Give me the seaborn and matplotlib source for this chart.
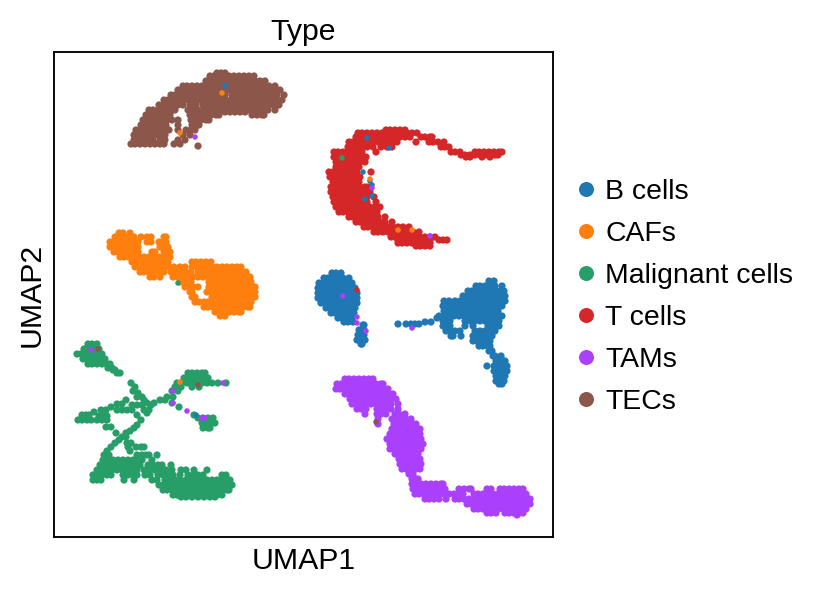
import pandas as pd
import matplotlib.pyplot as plt
import seaborn as sns

# cell positions, {y: [x, x, ...]} for each cell type
b_cells = {
    273: [332, 336, 341],
    278: [324, 328, 333, 338, 343, 349],
    283: [319, 323, 328, 333, 338, 343, 348, 352],
    288: [318, 321, 326, 331, 336, 341, 346, 351, 355],
    293: [318, 320, 325, 330, 335, 340, 345, 350, 355, 357],
    298: [318, 322, 327, 332, 337, 342, 347, 352, 357],
    303: [321, 325, 330, 335, 340, 345, 350, 355, 357],
    308: [326, 330, 335, 340, 345, 350, 355],
    313: [331, 335, 340, 345, 350, 354],
    318: [338, 342, 347, 352, 437],
    322: [344, 348, 353, 425, 431],
    325: [363, 364],
    324: [398, 406, 411, 415, 419],
    330: [359, 362, 364],
    335: [358, 361, 364],
    340: [357, 360, 365],
    344: [361, 362],
    281: [489, 494],
    286: [476, 480, 485, 490, 495, 502],
    291: [468, 472, 477, 482, 487, 492, 497, 502, 504],
    296: [463, 467, 472, 477, 482, 487, 492, 497, 502, 505],
    301: [444, 449, 455, 460, 465, 470, 475, 480, 485, 490, 495, 500, 505],
    306: [443, 447, 452, 457, 462, 467, 472, 477, 482, 487, 492, 498, 502],
    311: [444, 448, 453, 458, 463, 469, 473, 478, 483, 488, 493, 498],
    316: [439, 444, 449, 454, 459, 464, 467, 472, 477, 482, 486, 492, 497, 502],
    321: [443, 447, 450, 465, 470, 475, 480, 485, 490, 495, 499],
    326: [443, 447, 450, 465, 473, 488, 494, 499],
    331: [446, 450, 455, 460, 475, 480, 485, 491, 495],
    336: [451, 453, 461, 473, 478, 483, 488, 492],
    341: [473, 477, 482, 487, 490],
    346: [479, 483, 488, 490],
    351: [489, 492],
    356: [493, 495, 501],
    361: [496, 499, 503, 505],
    366: [487, 494, 497, 501, 505, 507],
    371: [494, 497, 501, 505, 507],
    376: [496, 499, 503, 505],
    381: [496, 499, 504],
    384: [499, 502],
}
cafs = {
    233: [119, 123, 130],
    237: [115, 119, 124, 129, 134, 141, 147, 151, 164, 166],
    242: [110, 114, 119, 124, 129, 134, 138, 147, 151, 159, 163, 166],
    247: [110, 114, 119, 124, 129, 134, 138, 160, 164, 168],
    252: [114, 118, 123, 128, 133, 138, 152, 155, 164, 168, 170],
    257: [120, 124, 129, 134, 139, 144, 149, 154, 159, 164, 169, 170],
    262: [132, 136, 141, 146, 151, 156, 161, 166, 168, 192, 196, 201, 206, 211],
    267: [135, 139, 144, 149, 154, 159, 164, 169, 174, 180, 185, 192, 197, 202, 207, 212, 217, 222, 227, 232, 237, 241],
    272: [140, 144, 149, 154, 159, 164, 171, 176, 181, 186, 191, 198, 203, 208, 213, 218, 223, 228, 233, 238, 243, 246],
    277: [150, 154, 160, 173, 178, 183, 188, 193, 198, 203, 208, 213, 218, 223, 228, 233, 238, 243, 248, 250],
    282: [180, 184, 189, 191, 209, 213, 218, 223, 228, 233, 238, 243, 248, 251],
    287: [185, 189, 193, 198, 209, 213, 218, 223, 228, 233, 238, 243, 248, 253, 255],
    292: [190, 192, 207, 211, 216, 221, 226, 231, 236, 241, 246, 251, 255],
    297: [192, 195, 212, 216, 221, 226, 231, 236, 241, 246, 251, 255],
    302: [195, 199, 204, 208, 213, 217, 222, 227, 232, 237, 242, 247, 251],
    307: [204, 208, 213, 218, 223, 228, 233, 238, 243, 248, 250],
    312: [215, 219, 224, 229, 234, 239, 241],
    316: [220, 225],
}
malignant = {
    344: [88, 92, 97],
    349: [84, 88, 93, 99],
    354: [77, 81, 86, 91, 96, 102],
    359: [83, 87, 92, 97, 102, 105],
    364: [88, 92, 97, 102, 107, 110],
    368: [108, 112],
    370: [113, 115],
    373: [117, 120, 188, 192, 197, 202, 205],
    378: [184, 188, 193, 198, 203, 208],
    383: [131, 177, 182, 187, 192, 197, 202, 207, 212, 218, 226],
    387: [135, 175, 181, 192, 199],
    391: [133, 172, 178],
    393: [138],
    397: [137, 142, 167, 173],
    400: [126, 144, 160, 165],
    403: [147, 154, 172],
    404: [117, 122],
    405: [132, 137, 142, 151],
    407: [111, 179],
    410: [101, 106, 117, 122, 127, 132, 144, 149],
    412: [94],
    413: [147],
    415: [82, 86, 89, 137, 194],
    416: [99, 103, 107],
    418: [198, 203, 208, 213],
    420: [78, 82, 87, 91, 97, 102, 107, 141],
    423: [202, 207, 212, 215],
    425: [137],
    427: [106, 111],
    428: [134, 203, 208, 210],
    431: [130],
    433: [116, 126],
    437: [122, 126],
    440: [119],
    443: [115, 127, 131],
    447: [111, 128, 136, 141, 144],
    451: [107, 130],
    455: [104, 109, 137, 142, 146, 149, 157],
    460: [103, 108, 113, 118, 123, 128, 133, 137, 142, 152],
    465: [100, 105, 110, 115, 120, 125, 130, 135, 140, 148, 153, 158, 162, 171],
    470: [97, 102, 107, 112, 117, 122, 127, 132, 137, 144, 150, 155, 160, 166, 172, 181, 186, 194, 207],
    475: [93, 97, 102, 107, 111, 123, 128, 133, 137, 145, 150, 158, 163, 168, 173, 180, 188, 193, 198, 203, 222, 226],
    480: [93, 97, 101, 124, 134, 152, 157, 165, 170, 175, 180, 186, 192, 197, 202, 207, 212, 217, 222, 227, 230],
    485: [159, 163, 168, 173, 178, 183, 188, 193, 198, 203, 208, 213, 218, 223, 228, 232],
    490: [163, 167, 172, 177, 182, 187, 192, 197, 202, 207, 212, 217, 222, 227, 229],
    495: [173, 177, 182, 187, 192, 197, 202, 207, 212, 217, 222],
    497: [181, 186, 192, 198, 204, 210, 215],
}
t_cells = {
    130: [386, 390, 395, 400, 405],
    133: [358, 362, 367, 372, 377, 382, 387, 392, 397, 402, 407, 412, 417],
    137: [356, 360, 365, 370, 375, 380, 385, 390, 395, 400, 405, 410, 421, 425, 430, 432],
    142: [349, 353, 358, 363, 368, 373, 378, 383, 388, 393, 397, 416, 429, 433, 438, 444],
    147: [348, 352, 357, 362, 367, 373, 381, 387, 392, 441, 445, 449],
    152: [334, 338, 343, 348, 353, 358, 362, 376, 451, 455, 460, 475, 479, 484, 489, 494, 499, 502],
    155: [461, 465, 470, 475, 480, 485, 490, 495, 498],
    157: [334, 338, 343, 348, 353, 358, 361, 366, 466, 470, 482, 490],
    162: [336, 340, 345, 350, 355, 360, 365],
    167: [336, 340, 345, 350, 355, 359],
    172: [329, 333, 338, 343, 348, 353, 357, 371],
    177: [330, 334, 339, 344, 349, 354, 360],
    182: [333, 337, 342, 347, 352, 357, 359],
    187: [331, 335, 340, 345, 350, 355, 360, 365, 368],
    192: [331, 335, 340, 346, 352, 357, 362, 367, 370],
    197: [333, 337, 342, 347, 352, 357, 362, 367, 374],
    202: [334, 338, 343, 348, 353, 358, 363, 367, 376],
    207: [336, 340, 345, 350, 355, 360, 365, 370, 375, 380],
    212: [339, 343, 348, 353, 358, 363, 368, 373, 377],
    217: [349, 353, 358, 363, 368, 373, 378, 385],
    222: [356, 360, 365, 370, 375, 380, 385, 392],
    227: [364, 368, 373, 378, 383, 388, 393, 398, 403, 409],
    232: [374, 378, 383, 388, 393, 398, 403, 408, 413, 419],
    237: [391, 395, 400, 405, 410, 415, 420, 425, 430, 435],
    240: [398, 402, 407, 412, 417, 422, 427, 430, 439, 443, 447],
    243: [398, 402, 407, 412, 417, 422, 427, 430],
    246: [416, 420, 425, 430],
}
tams = {
    379: [345, 349, 354, 359, 364, 369, 373],
    384: [337, 341, 346, 351, 356, 361, 366, 371, 376, 381, 383],
    389: [336, 340, 345, 350, 355, 360, 365, 370, 375, 380, 385, 388],
    394: [345, 349, 354, 359, 364, 369, 374, 379, 384, 389, 393],
    399: [350, 354, 359, 364, 369, 374, 379, 384, 390, 396],
    404: [352, 356, 361, 366, 371, 376, 381, 386, 391, 398],
    409: [357, 361, 366, 377, 381, 386, 391, 398],
    414: [365, 377, 381, 386, 395, 399, 405],
    419: [378, 392, 396, 401, 406, 411],
    424: [378, 394, 398, 403, 408, 413, 416],
    429: [392, 396, 401, 406, 411, 416, 420],
    434: [390, 394, 399, 404, 409, 414, 420],
    439: [387, 391, 396, 401, 406, 411, 416, 421],
    444: [390, 394, 399, 404, 409, 414, 419, 423],
    449: [390, 394, 399, 404, 409, 414, 418, 421],
    454: [395, 399, 404, 409, 414, 418],
    459: [399, 403, 408, 413, 418, 420],
    464: [400, 404, 409, 414, 419, 421],
    469: [402, 406, 411, 416, 420],
    474: [409, 413],
    479: [412, 416, 418],
    484: [412, 416, 421, 426, 431, 436, 441, 443],
    489: [413, 417, 422, 427, 432, 437, 442, 445, 459, 464, 469, 471, 487, 491, 500, 504, 509, 514, 519, 523],
    494: [415, 419, 424, 429, 434, 439, 444, 449, 454, 459, 463, 474, 478, 483, 488, 493, 498, 503, 508, 513, 518, 523, 526],
    499: [425, 429, 434, 439, 446, 455, 459, 464, 469, 474, 479, 484, 489, 494, 499, 504, 509, 514, 519, 524, 530],
    504: [467, 471, 476, 481, 486, 491, 496, 501, 506, 511, 516, 521, 526, 530],
    509: [474, 478, 483, 488, 493, 498, 503, 508, 513, 518, 523, 526],
    513: [487, 491, 496, 505, 509, 514, 519, 523],
    515: [517],
}
tecs = {
    73: [217, 221, 225],
    76: [210, 214, 219, 224, 229, 234, 239, 244, 249, 254],
    81: [206, 210, 215, 220, 225, 230, 235, 240, 245, 250, 255, 260, 265],
    86: [183, 187, 192, 197, 202, 207, 212, 217, 222, 225, 229, 234, 239, 244, 249, 254, 259, 264, 269, 275],
    90: [178, 182, 187, 192, 197, 202, 207, 212, 217, 222, 225, 229, 234, 239, 244, 249, 254, 259, 264, 269, 274, 280],
    95: [171, 175, 180, 185, 190, 195, 200, 205, 210, 215, 220, 225, 232, 237, 242, 247, 252, 257, 262, 267, 272, 277, 284],
    100: [164, 168, 173, 178, 183, 188, 194, 200, 205, 211, 216, 221, 226, 231, 236, 241, 246, 251, 256, 261, 266, 271, 276, 282],
    105: [159, 163, 168, 173, 178, 183, 190, 196, 203, 208, 213, 218, 223, 228, 233, 238, 243, 248, 253, 258, 263, 268, 273, 279],
    110: [149, 153, 158, 163, 168, 173, 175, 188, 193, 198, 204, 209, 214, 219, 224, 229, 234, 239, 244, 248, 253, 258, 263, 268, 275],
    112: [225, 230, 235, 240, 245],
    115: [146, 150, 155, 160, 165, 170, 190, 195, 201, 206, 211, 216, 219, 252, 257, 262, 264],
    120: [143, 147, 152, 157, 162, 167, 172, 178, 191, 196, 201, 206, 209],
    125: [141, 145, 150, 155, 160, 166, 178, 192, 197, 199],
    130: [136, 140, 145, 150, 155, 160, 165, 169, 178, 186, 191, 195],
    135: [134, 138, 143, 148, 153, 158, 163, 165, 183, 190],
    140: [134, 138, 143, 148, 153, 160, 165, 178, 185],
    144: [131, 135, 140, 145, 150, 155, 160, 164, 174, 180],
    146: [198],
}
# the few cells of one type sitting inside another cluster, drawn last
strays_x = [225, 222, 180, 195, 178, 367, 389, 363, 372, 372, 365, 342, 370, 370, 398, 412, 372, 430,
            91, 173, 173, 187, 202, 205, 223, 196, 180, 98, 198, 343, 357, 357, 366, 357, 412, 376]
strays_y = [86, 93, 133, 137, 283, 138, 148, 172, 185, 196, 199, 158, 181, 179, 230, 230, 188, 236,
            350, 391, 403, 411, 418, 418, 383, 415, 382, 349, 385, 296, 317, 323, 331, 290, 328, 422]
strays_type = ['B cells', 'CAFs', 'CAFs', 'TAMs', 'Malignant cells',
               'B cells', 'B cells', 'B cells', 'B cells', 'B cells', 'B cells', 'Malignant cells',
               'B cells', 'CAFs', 'CAFs', 'CAFs', 'TAMs', 'TAMs',
               'TAMs', 'TAMs', 'TAMs', 'TAMs', 'TAMs', 'TAMs', 'TAMs', 'B cells', 'CAFs', 'TECs', 'TECs',
               'TAMs', 'TAMs', 'TAMs', 'TAMs', 'T cells', 'TAMs', 'TECs']

type_names = ['B cells', 'CAFs', 'Malignant cells', 'T cells', 'TAMs', 'TECs']
type_colors = ['#1f77b4', '#ff7f0e', '#279e68', '#d62728', '#aa40fc', '#8c564b']

# 画图
sns.set_style('white', {'text.color': 'black', 'axes.labelcolor': 'black'})
plt.rcParams['font.family'] = ['Liberation Sans', 'DejaVu Sans']

rows = []
for name, cells in zip(type_names, [b_cells, cafs, malignant, t_cells, tams, tecs]):
    for y, xs in cells.items():
        for x in xs:
            rows.append({'UMAP1': x, 'UMAP2': y, 'Type': name})
df = pd.DataFrame(rows)
strays = pd.DataFrame({'UMAP1': strays_x, 'UMAP2': strays_y, 'Type': strays_type})

fig = plt.figure(figsize=(821 / 150, 592 / 150), dpi=150)
ax = fig.add_axes([54 / 821, 55 / 592, 499 / 821, 485 / 592])

sns.scatterplot(data=df, x='UMAP1', y='UMAP2', hue='Type', hue_order=type_names,
                palette=type_colors, s=12, linewidth=0, ax=ax)
sns.scatterplot(data=strays, x='UMAP1', y='UMAP2', hue='Type', hue_order=type_names,
                palette=type_colors, s=7, linewidth=0, legend=False, ax=ax)

ax.set_xlim(54, 553)
ax.set_ylim(537, 52)
ax.set_xticks([])
ax.set_yticks([])
ax.set_xlabel('UMAP1', fontsize=14.5, labelpad=5)
ax.set_ylabel('UMAP2', fontsize=14.5, labelpad=4)
ax.set_title('Type', fontsize=14.5, pad=6)
for spine in ax.spines.values():
    spine.set_color('black')
    spine.set_linewidth(0.9)
    spine.set_visible(True)

handles, labels = ax.get_legend_handles_labels()
leg = ax.legend(handles, labels, loc='center left', bbox_to_anchor=(1.0, 0.495), frameon=False,
                fontsize=13.6, labelspacing=0.56, handlelength=1.0, handletextpad=0.17,
                borderpad=0.37, borderaxespad=0.3)
for h in leg.legend_handles:
    h.set_markersize(7.2)

fig.savefig('out.png', dpi=150)
